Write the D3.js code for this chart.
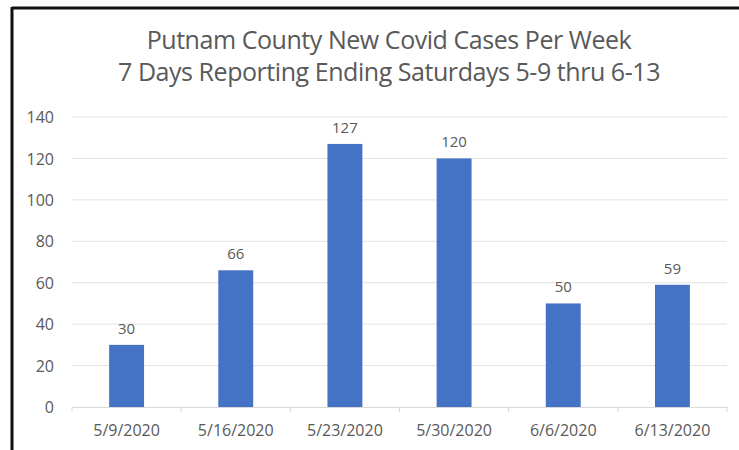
<!DOCTYPE html>
<html>
<head>
<meta charset="utf-8">
<script src="https://cdn.jsdelivr.net/npm/d3@7"></script>
<style>
  body { margin: 0; background: #fff; }
  text { font-family: "Open Sans", sans-serif; fill: #595959; }
</style>
</head>
<body>
<svg id="chart" width="739" height="450"></svg>
<script>

// weekly new cases
var weeks = ["5/9/2020", "5/16/2020", "5/23/2020", "5/30/2020", "6/6/2020", "6/13/2020"];
var cases = [30, 66, 127, 120, 50, 59];
var yTicks = [0, 20, 40, 60, 80, 100, 120, 140];
var titleLines = ["Putnam County New Covid Cases Per Week",
	"7 Days Reporting Ending Saturdays 5-9 thru 6-13"];

var svg = d3.select("#chart");

var x = d3.scaleBand()
	.domain(weeks)
	.range([72, 727])
	.paddingInner(0.68)
	.paddingOuter(0.34);

var y = d3.scaleLinear()
	.domain([0, 140])
	.range([407, 117]);

// frame lines (top and left only)
svg.append("line").attr("x1", 12).attr("x2", 739).attr("y1", 8).attr("y2", 8)
	.attr("stroke", "#111").attr("stroke-width", 3);
svg.append("line").attr("x1", 12).attr("x2", 12).attr("y1", 7).attr("y2", 450)
	.attr("stroke", "#111").attr("stroke-width", 3);

// title
svg.selectAll(".title")
	.data(titleLines)
	.enter().append("text")
	.attr("class", "title")
	.attr("x", 389)
	.attr("y", function(d, i) { return 49 + i * 32; })
	.attr("text-anchor", "middle")
	.style("font-size", "25px")
	.style("letter-spacing", "-0.45px")
	.text(function(d) { return d; });

// gridlines
svg.append("g")
	.selectAll("line")
	.data(yTicks.slice(1))
	.enter().append("line")
	.attr("x1", 72).attr("x2", 727)
	.attr("y1", function(d) { return y(d); })
	.attr("y2", function(d) { return y(d); })
	.attr("stroke", "#e3e3e3");

// y axis labels
var yAxis = svg.append("g")
	.attr("transform", "translate(54,0)")
	.call(d3.axisLeft(y).tickValues(yTicks).tickSize(0).tickPadding(0));
yAxis.select(".domain").remove();
yAxis.selectAll("text").style("font-size", "16px").style("font-family", null).attr("dy", "0.35em");

// x axis
var xAxis = svg.append("g")
	.attr("transform", "translate(0,407)")
	.call(d3.axisBottom(x).tickSize(0).tickPadding(18));
xAxis.select(".domain").attr("stroke", "#d9d9d9");
xAxis.selectAll("text").style("font-size", "16px").style("font-family", null);

// small separator ticks between categories
var step = x.step();
svg.append("g")
	.selectAll("line")
	.data(d3.range(weeks.length + 1))
	.enter().append("line")
	.attr("x1", function(i) { return 72 + i * step; })
	.attr("x2", function(i) { return 72 + i * step; })
	.attr("y1", 407).attr("y2", 412)
	.attr("stroke", "#d9d9d9");

// bars
svg.append("g")
	.selectAll("rect")
	.data(cases)
	.enter().append("rect")
	.attr("x", function(d, i) { return x(weeks[i]); })
	.attr("y", function(d) { return y(d); })
	.attr("width", x.bandwidth())
	.attr("height", function(d) { return 407 - y(d); })
	.style("fill", "#4472c4");

// value labels
svg.append("g")
	.selectAll("text")
	.data(cases)
	.enter().append("text")
	.attr("x", function(d, i) { return x(weeks[i]) + x.bandwidth() / 2; })
	.attr("y", function(d) { return y(d) - 11; })
	.attr("text-anchor", "middle")
	.style("font-size", "15px")
	.text(function(d) { return d; });

</script>
</body>
</html>
